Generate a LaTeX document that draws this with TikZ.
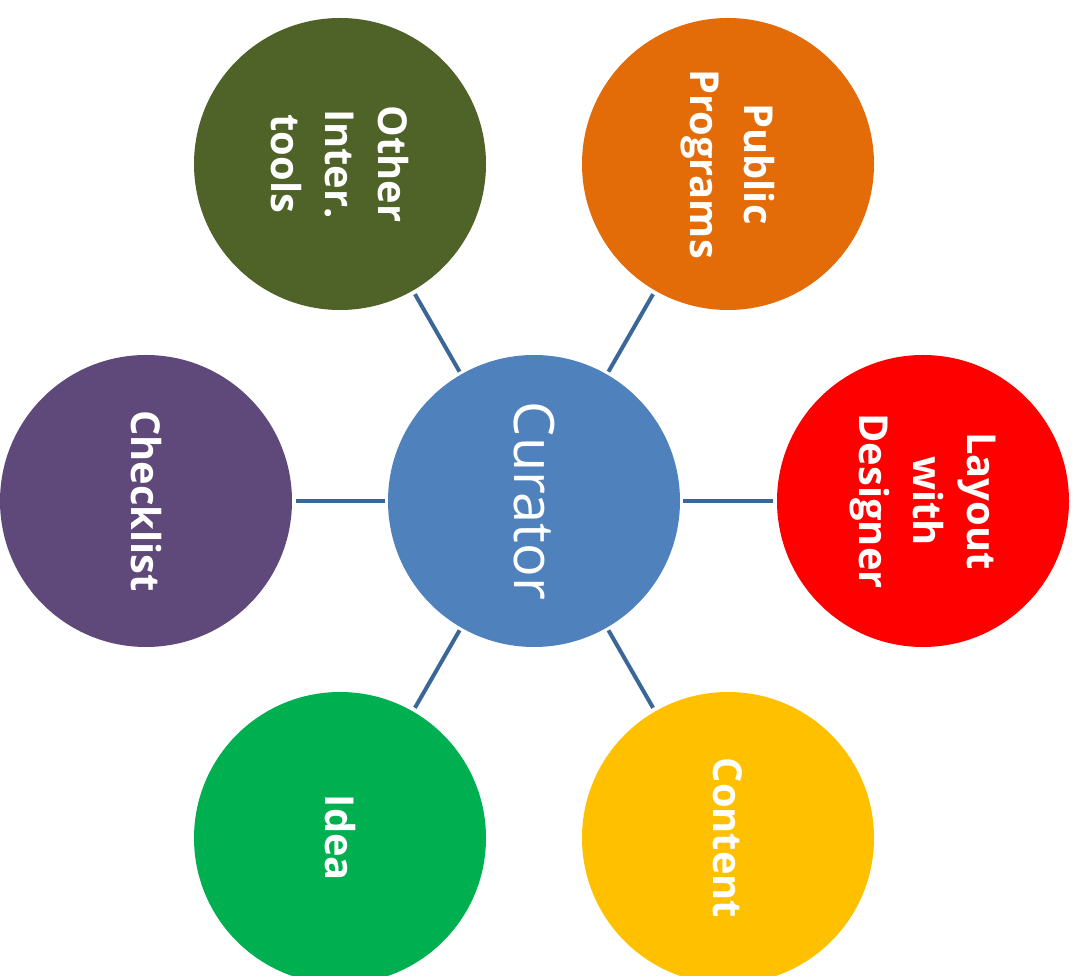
\documentclass[tikz,border=0pt]{standalone}
\usepackage{fontspec}
\setmainfont{Open Sans}
\usepackage{tikz}

\definecolor{curblue}{RGB}{79,129,189}
\definecolor{linkblue}{RGB}{58,102,152}
\definecolor{olive}{RGB}{79,98,40}
\definecolor{pumpkin}{RGB}{227,108,9}
\definecolor{brightred}{RGB}{255,0,0}
\definecolor{amber}{RGB}{255,192,0}
\definecolor{leaf}{RGB}{0,176,80}
\definecolor{plum}{RGB}{95,73,122}

\begin{document}
\begin{tikzpicture}
[x=1bp,y=1bp]
\tikzset{circ/.style={circle,minimum size=292bp,inner sep=0pt,text=white,align=center,rotate=-90,
  font=\bfseries\fontsize{40}{54}\selectfont}}
\tikzset{link/.style={draw=linkblue,line width=4bp,shorten <=3bp,shorten >=4bp}}
\useasboundingbox (0,0) rectangle (1078,976);

\node [circ, fill=curblue, font=\fontsize{56}{60}\selectfont] (n0) at (534,475) {Curator};
\node [circ, fill=olive] (n1) at (340,812) {Other\\Inter.\\tools};
\node [circ, fill=pumpkin] (n2) at (728,812) {Public\\Programs};
\node [circ, fill=brightred] (n3) at (923,475) {Layout\\with\\Designer};
\node [circ, fill=amber] (n4) at (728,138) {Content};
\node [circ, fill=leaf] (n5) at (340,138) {Idea};
\node [circ, fill=plum] (n6) at (146,475) {Checklist};

\foreach \to in {n1,n2,n3,n4,n5,n6}
	\draw [link] (n0) -- (\to);

\end{tikzpicture}
\end{document}
